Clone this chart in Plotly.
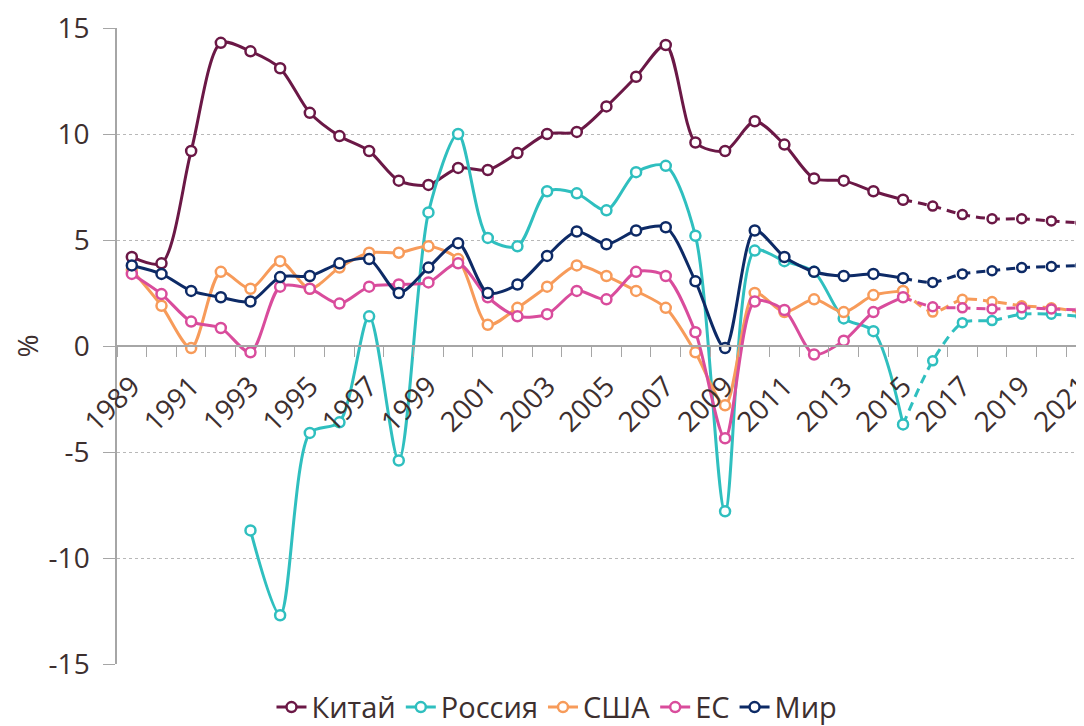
import plotly.graph_objects as go

years = list(range(1989, 2016))
fc_years = list(range(2015, 2022))

china = [4.2, 3.9, 9.2, 14.3, 13.9, 13.1, 11.0, 9.9, 9.2, 7.8, 7.6, 8.4, 8.3, 9.1, 10.0, 10.1,
         11.3, 12.7, 14.2, 9.6, 9.2, 10.6, 9.5, 7.9, 7.8, 7.3, 6.9]
china_fc = [6.9, 6.6, 6.2, 6.0, 6.0, 5.9, 5.8]

russia = [None, None, None, None, -8.7, -12.7, -4.1, -3.6, 1.4, -5.4, 6.3, 10.0, 5.1, 4.7, 7.3, 7.2,
          6.4, 8.2, 8.5, 5.2, -7.8, 4.5, 4.0, 3.5, 1.3, 0.7, -3.7]
russia_fc = [-3.7, -0.7, 1.1, 1.2, 1.5, 1.5, 1.4]

usa = [3.6, 1.9, -0.1, 3.5, 2.7, 4.0, 2.7, 3.7, 4.4, 4.4, 4.7, 4.1, 1.0, 1.8, 2.8, 3.8,
       3.3, 2.6, 1.8, -0.3, -2.8, 2.5, 1.6, 2.2, 1.6, 2.4, 2.6]
usa_fc = [2.6, 1.6, 2.2, 2.1, 1.9, 1.8, 1.6]

eu = [3.4, 2.45, 1.15, 0.85, -0.3, 2.8, 2.7, 2.0, 2.8, 2.9, 3.0, 3.9, 2.3, 1.4, 1.5, 2.6,
      2.2, 3.5, 3.3, 0.65, -4.35, 2.1, 1.7, -0.4, 0.25, 1.6, 2.3]
eu_fc = [2.3, 1.85, 1.8, 1.75, 1.8, 1.75, 1.7]

world = [3.8, 3.4, 2.6, 2.3, 2.1, 3.25, 3.3, 3.9, 4.1, 2.5, 3.7, 4.85, 2.5, 2.9, 4.25, 5.4,
         4.8, 5.45, 5.6, 3.05, -0.1, 5.45, 4.2, 3.5, 3.3, 3.4, 3.2]
world_fc = [3.2, 3.0, 3.4, 3.55, 3.7, 3.75, 3.8]

names = ["Китай", "Россия", "США", "ЕС", "Мир"]
colors = ["#6b1846", "#2fbfbf", "#f79b5a", "#d94c9c", "#0d2a66"]
series = [china, russia, usa, eu, world]
forecasts = [china_fc, russia_fc, usa_fc, eu_fc, world_fc]

y_ticks = [15, 10, 5, 0, -5, -10, -15]
y_ticktext = ["15", "10", "5", "0", "-5", "-10", "-15"]
x_ticks = list(range(1989, 2022, 2))

text_color = "#3d2f2f"
font_family = "Open Sans, Noto Sans, sans-serif"

fig = go.Figure()
for name, col, s, f in zip(names, colors, series, forecasts):
    fig.add_trace(go.Scatter(
        x=fc_years, y=f, mode="lines+markers", name=name, legendgroup=name, showlegend=False,
        line=dict(color=col, width=3, dash="9px,6px", shape="spline", smoothing=0.8),
        marker=dict(symbol="circle", size=9, color="white", line=dict(color=col, width=2.5)),
    ))
for name, col, s, f in zip(names, colors, series, forecasts):
    fig.add_trace(go.Scatter(
        x=years, y=s, mode="lines+markers", name=name, legendgroup=name,
        line=dict(color=col, width=3, shape="spline", smoothing=0.8),
        marker=dict(symbol="circle", size=10, color="white", line=dict(color=col, width=2.5)),
        connectgaps=False,
    ))

# the page body has an 8px margin, so the figure is 8px smaller and shifted
fig.update_layout(
    width=1076, height=718,
    margin=dict(l=109, r=0, t=20, b=62, autoexpand=False),
    paper_bgcolor="white", plot_bgcolor="white",
    font=dict(family=font_family, color=text_color, size=28),
    showlegend=True,
    legend=dict(orientation="h", x=0.455, xanchor="center", y=-0.068, yanchor="middle",
                font=dict(size=29, color=text_color), itemwidth=30, tracegroupgap=0,
                traceorder="normal"),
    xaxis=dict(
        range=[1988.5, 2021.1], anchor="free", position=0.5, automargin=False,
        tickvals=x_ticks, ticktext=[str(v) for v in x_ticks], tickangle=-45,
        ticks="outside", ticklen=12, tickcolor="rgba(0,0,0,0)",
        ticklabeloverflow="allow",
        minor=dict(tick0=1988.5, dtick=1, ticks="outside", ticklen=10, tickcolor="#a6a6a6",
                   showgrid=False),
        showline=True, linecolor="#a6a6a6", linewidth=1.5,
        showgrid=False, zeroline=False,
        tickfont=dict(size=28, color=text_color),
    ),
    yaxis=dict(
        range=[-15, 15], tickvals=y_ticks, ticktext=y_ticktext, automargin=False,
        ticks="outside", ticklen=12, tickcolor="#a6a6a6", ticklabelstandoff=8,
        ticklabeloverflow="allow",
        showline=True, linecolor="#a6a6a6", linewidth=1.5,
        showgrid=True, gridcolor="#b8b8b8", gridwidth=1, griddash="3px,3px",
        zeroline=False,
        tickfont=dict(size=28, color=text_color),
        title=dict(text="%", font=dict(size=28, color=text_color), standoff=36),
    ),
)

fig.write_html("out.html")
